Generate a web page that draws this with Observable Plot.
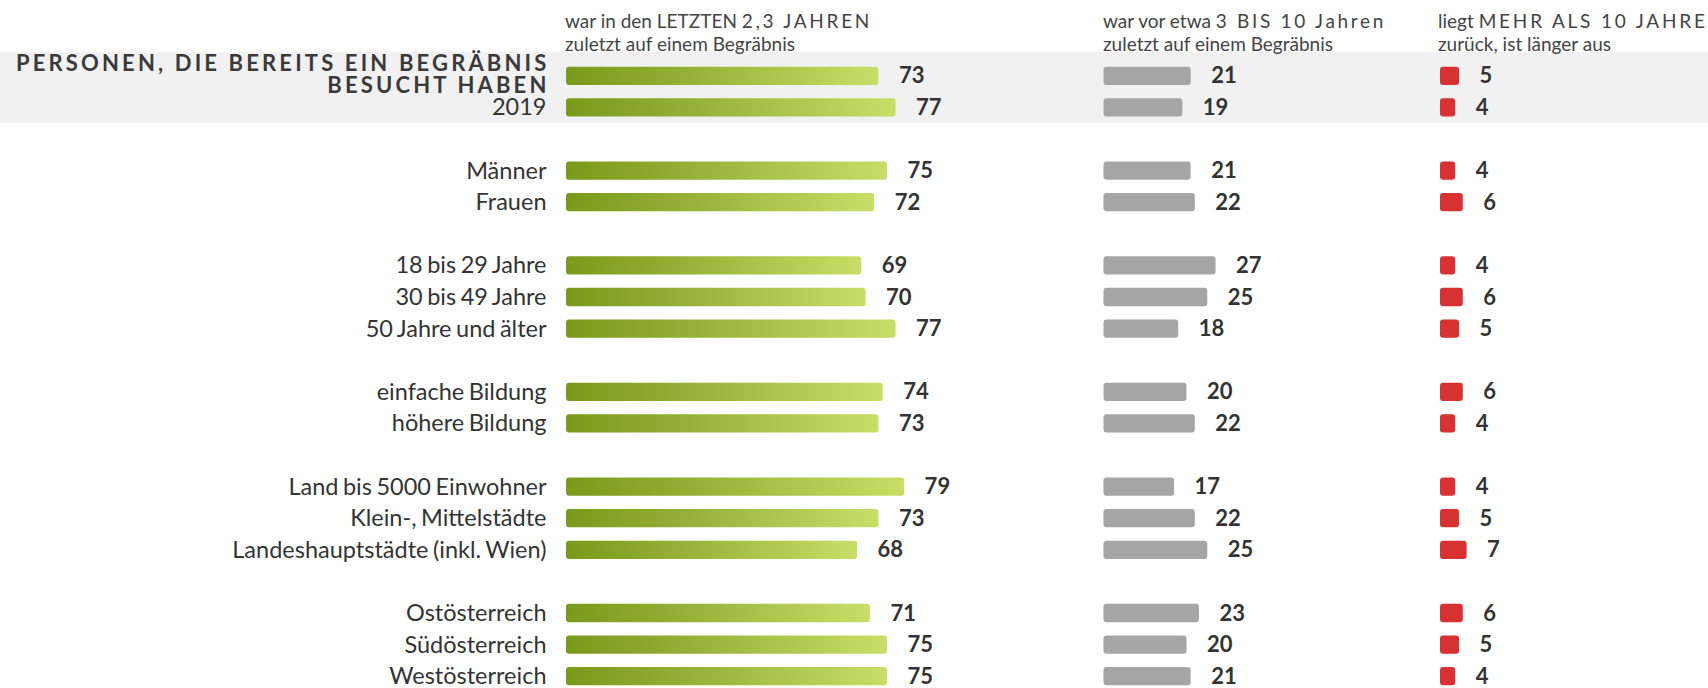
<!DOCTYPE html>
<html>
<head>
<meta charset="utf-8">
<script src="https://cdn.jsdelivr.net/npm/d3@7"></script>
<script src="https://cdn.jsdelivr.net/npm/@observablehq/plot@0.6"></script>
<style>
  html, body { margin: 0; padding: 0; background: #fff; }
  #wrap { position: relative; width: 1708px; height: 688px; overflow: hidden; font-family: Lato, sans-serif; color: #404040; }
  #band { position: absolute; left: 0; top: 52px; width: 1708px; height: 71px; background: #f1f1f1; }
  .hdr { position: absolute; top: 9px; font-size: 19px; line-height: 23px; white-space: nowrap; color: #444; }
  .sp { letter-spacing: 2.7px; }
  .chart { position: absolute; top: 0; }
  .chart svg { overflow: visible; max-width: none; }
</style>
</head>
<body>
<div id="wrap">
  <div id="band"></div>
  <div class="hdr" style="left:565px">war in den LETZTEN <span class="sp">2,3 JAHREN</span><br>zuletzt auf einem Begräbnis</div>
  <div class="hdr" style="left:1103px">war vor etwa <span class="sp">3 BIS 10 Jahren</span><br>zuletzt auf einem Begräbnis</div>
  <div class="hdr" style="left:1438px">liegt <span class="sp" style="letter-spacing:2.8px">MEHR ALS 10 JAHRE</span><br>zurück, ist länger aus</div>
  <div class="chart" id="cA" style="left:0px"></div>
  <div class="chart" id="cB" style="left:1060px"></div>
  <div class="chart" id="cC" style="left:1430px"></div>
</div>
<script>
// ---- data ----
const categories = [
  "PERSONEN, DIE BEREITS EIN BEGRÄBNIS\nBESUCHT HABEN",
  "2019",
  "Männer", "Frauen",
  "18 bis 29 Jahre", "30 bis 49 Jahre", "50 Jahre und älter",
  "einfache Bildung", "höhere Bildung",
  "Land bis 5000 Einwohner", "Klein-, Mittelstädte", "Landeshauptstädte (inkl. Wien)",
  "Ostösterreich", "Südösterreich", "Westösterreich"
];
const groups = [0, 0, 1, 1, 2, 2, 2, 3, 3, 4, 4, 4, 5, 5, 5];
const letzten23 = [73, 77, 75, 72, 69, 70, 77, 74, 73, 79, 73, 68, 71, 75, 75];
const vor3bis10 = [21, 19, 21, 22, 27, 25, 18, 20, 22, 17, 22, 25, 23, 20, 21];
const mehrAls10 = [5, 4, 4, 6, 4, 6, 5, 6, 4, 4, 5, 7, 6, 5, 4];

// ---- build rows + band domain with spacer rows between groups ----
const rows = categories.map((c, i) => ({
  key: c, label: c, group: groups[i], title: i === 0,
  a: letzten23[i], b: vor3bis10[i], c: mehrAls10[i]
}));
const domain = [];
rows.forEach((r, i) => {
  if (i > 0 && r.group !== rows[i - 1].group) domain.push("gap" + r.group);
  domain.push(r.key);
});

const yScale = {type: "band", domain, range: [60, 692], paddingInner: 0.42, paddingOuter: 0.21, round: false, axis: null};
const baseStyle = {background: "transparent", fontFamily: "Lato, sans-serif", color: "#333", overflow: "visible"};
const common = {height: 688, marginTop: 0, marginBottom: 0, marginLeft: 0, marginRight: 0, y: yScale, style: baseStyle};

const gradientDefs = () => {
  const defs = d3.create("svg:defs");
  const g = defs.append("linearGradient").attr("id", "greenGrad").attr("x1", "0%").attr("x2", "100%");
  g.append("stop").attr("offset", "0%").attr("stop-color", "#7a9a1b");
  g.append("stop").attr("offset", "35%").attr("stop-color", "#92ae34");
  g.append("stop").attr("offset", "100%").attr("stop-color", "#c9de66");
  return defs.node();
};

const valueLabels = (field) => Plot.text(rows, {
  x: field, y: "key", text: d => String(d[field]), dx: 20, textAnchor: "start",
  fontWeight: "bold", fontSize: 22, fill: "#333"
});

const chartA = Plot.plot({
  ...common,
  width: 1060,
  x: {domain: [0, 100], range: [566, 994], axis: null},
  marks: [
    gradientDefs,
    Plot.barX(rows, {x: "a", y: "key", fill: "url(#greenGrad)", rx: 3}),
    valueLabels("a"),
    Plot.text(rows.filter(d => !d.title), {
      x: () => 0, y: "key", text: "label", dx: -20, textAnchor: "end",
      fontSize: 23.5, fill: "#333"
    }),
    Plot.text(rows.filter(d => d.title), {
      x: () => 0, y: "key", text: "label", dx: -17, dy: -1, textAnchor: "end",
      fontSize: 22, fontWeight: "bold", fill: "#3a3a3a", lineHeight: 1.0
    })
  ]
});
d3.select(chartA).selectAll("text")
  .filter(function () { return this.textContent.includes("PERSONEN"); })
  .style("letter-spacing", "3.15px");
d3.select(chartA).selectAll("text")
  .filter(function () { return !this.textContent.includes("PERSONEN") && isNaN(+this.textContent); })
  .style("word-spacing", "-1.5px");

const chartB = Plot.plot({
  ...common,
  width: 370,
  x: {domain: [0, 100], range: [43.5, 458.5], axis: null},
  marks: [
    Plot.barX(rows, {x: "b", y: "key", fill: "#a5a5a5", rx: 3}),
    valueLabels("b")
  ]
});

const chartC = Plot.plot({
  ...common,
  width: 278,
  x: {domain: [0, 100], range: [10, 390], axis: null},
  marks: [
    Plot.barX(rows, {x: "c", y: "key", fill: "#d83131", rx: 3}),
    valueLabels("c")
  ]
});

document.getElementById("cA").appendChild(chartA);
document.getElementById("cB").appendChild(chartB);
document.getElementById("cC").appendChild(chartC);
</script>
</body>
</html>
